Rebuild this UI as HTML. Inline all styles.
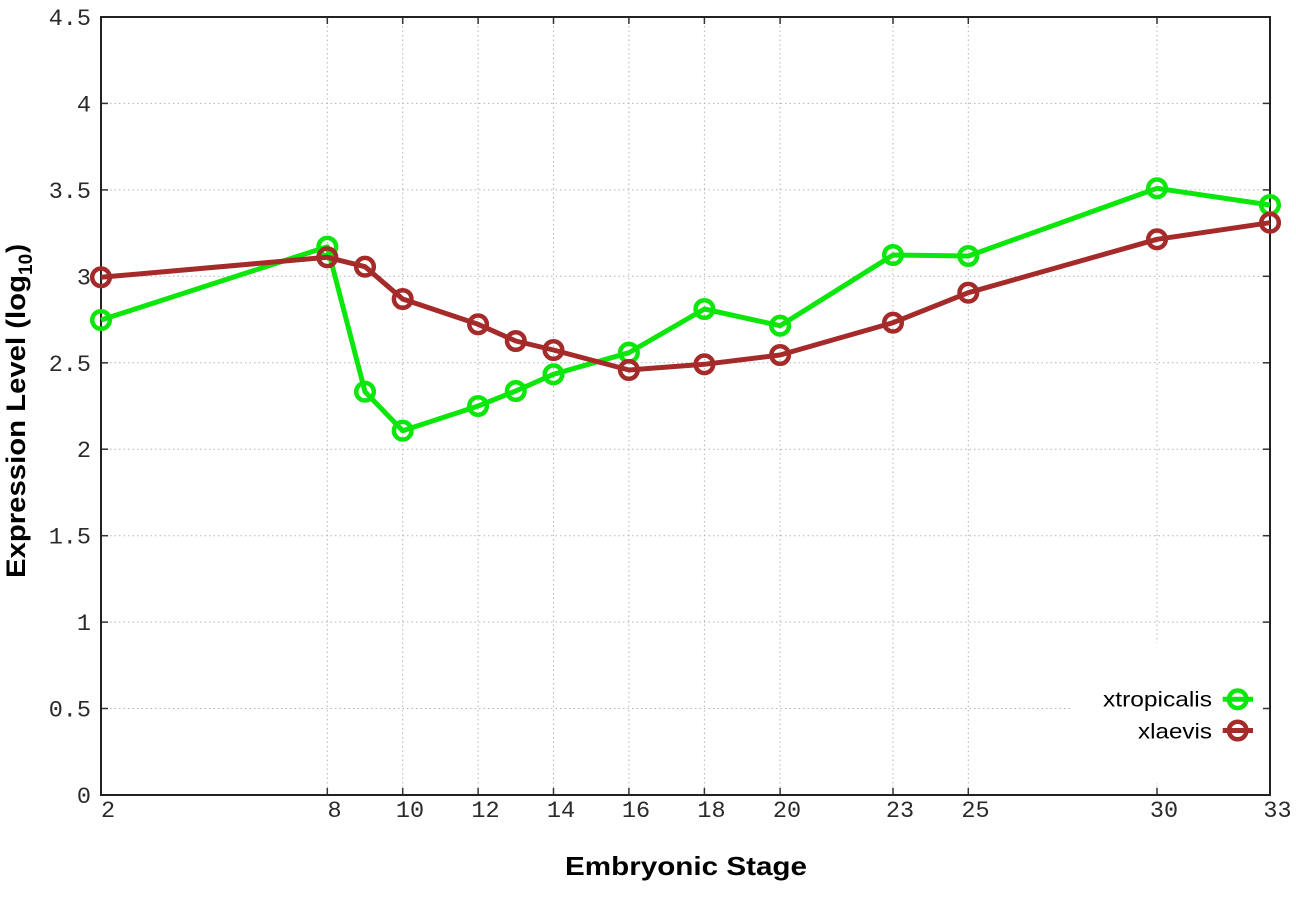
<!DOCTYPE html>
<html>
<head>
<meta charset="utf-8">
<style>
html,body{margin:0;padding:0;background:#fff;}
svg{display:block;}
.tk{font-family:"Liberation Mono","DejaVu Sans Mono",monospace;font-size:23.5px;fill:#2a2a2a;}
.lab{font-family:"Liberation Sans","DejaVu Sans",sans-serif;font-weight:bold;fill:#000;}
.leg{font-family:"Liberation Sans","DejaVu Sans",sans-serif;font-size:21px;fill:#000;}
</style>
</head>
<body>
<svg width="1296" height="907" viewBox="0 0 1296 907" xmlns="http://www.w3.org/2000/svg">
<rect width="1296" height="907" fill="#fff"/>
<!-- grid -->
<g stroke="#b4b4b4" stroke-width="1" stroke-dasharray="1.5,3" fill="none">
  <line x1="101" y1="103.4" x2="1270" y2="103.4"/>
  <line x1="101" y1="189.9" x2="1270" y2="189.9"/>
  <line x1="101" y1="276.3" x2="1270" y2="276.3"/>
  <line x1="101" y1="362.8" x2="1270" y2="362.8"/>
  <line x1="101" y1="449.2" x2="1270" y2="449.2"/>
  <line x1="101" y1="535.7" x2="1270" y2="535.7"/>
  <line x1="101" y1="622.1" x2="1270" y2="622.1"/>
  <line x1="101" y1="708.5" x2="1270" y2="708.5"/>
  <line x1="327.3" y1="17" x2="327.3" y2="795"/>
  <line x1="402.7" y1="17" x2="402.7" y2="795"/>
  <line x1="478.1" y1="17" x2="478.1" y2="795"/>
  <line x1="553.5" y1="17" x2="553.5" y2="795"/>
  <line x1="628.9" y1="17" x2="628.9" y2="795"/>
  <line x1="704.4" y1="17" x2="704.4" y2="795"/>
  <line x1="780.1" y1="17" x2="780.1" y2="795"/>
  <line x1="893" y1="17" x2="893" y2="795"/>
  <line x1="968.3" y1="17" x2="968.3" y2="795"/>
  <line x1="1157" y1="17" x2="1157" y2="795"/>
</g>
<!-- legend background -->
<rect x="1072" y="643" width="197" height="140" fill="#fff"/>
<!-- ticks -->
<g stroke="#333" stroke-width="1.5">
  <line x1="101" y1="103.4" x2="108" y2="103.4"/><line x1="1270" y1="103.4" x2="1263" y2="103.4"/>
  <line x1="101" y1="189.9" x2="108" y2="189.9"/><line x1="1270" y1="189.9" x2="1263" y2="189.9"/>
  <line x1="101" y1="276.3" x2="108" y2="276.3"/><line x1="1270" y1="276.3" x2="1263" y2="276.3"/>
  <line x1="101" y1="362.8" x2="108" y2="362.8"/><line x1="1270" y1="362.8" x2="1263" y2="362.8"/>
  <line x1="101" y1="449.2" x2="108" y2="449.2"/><line x1="1270" y1="449.2" x2="1263" y2="449.2"/>
  <line x1="101" y1="535.7" x2="108" y2="535.7"/><line x1="1270" y1="535.7" x2="1263" y2="535.7"/>
  <line x1="101" y1="622.1" x2="108" y2="622.1"/><line x1="1270" y1="622.1" x2="1263" y2="622.1"/>
  <line x1="101" y1="708.5" x2="108" y2="708.5"/><line x1="1270" y1="708.5" x2="1263" y2="708.5"/>
  <line x1="327.3" y1="795" x2="327.3" y2="788"/><line x1="327.3" y1="17" x2="327.3" y2="24"/>
  <line x1="402.7" y1="795" x2="402.7" y2="788"/><line x1="402.7" y1="17" x2="402.7" y2="24"/>
  <line x1="478.1" y1="795" x2="478.1" y2="788"/><line x1="478.1" y1="17" x2="478.1" y2="24"/>
  <line x1="553.5" y1="795" x2="553.5" y2="788"/><line x1="553.5" y1="17" x2="553.5" y2="24"/>
  <line x1="628.9" y1="795" x2="628.9" y2="788"/><line x1="628.9" y1="17" x2="628.9" y2="24"/>
  <line x1="704.4" y1="795" x2="704.4" y2="788"/><line x1="704.4" y1="17" x2="704.4" y2="24"/>
  <line x1="780.1" y1="795" x2="780.1" y2="788"/><line x1="780.1" y1="17" x2="780.1" y2="24"/>
  <line x1="893" y1="795" x2="893" y2="788"/><line x1="893" y1="17" x2="893" y2="24"/>
  <line x1="968.3" y1="795" x2="968.3" y2="788"/><line x1="968.3" y1="17" x2="968.3" y2="24"/>
  <line x1="1157" y1="795" x2="1157" y2="788"/><line x1="1157" y1="17" x2="1157" y2="24"/>
</g>
<!-- border -->
<rect x="101" y="17" width="1169" height="778" fill="none" stroke="#222" stroke-width="2"/>
<!-- y tick labels -->
<g class="tk" text-anchor="end">
  <text x="91" y="25">4.5</text>
  <text x="91" y="111.4">4</text>
  <text x="91" y="197.9">3.5</text>
  <text x="91" y="284.3">3</text>
  <text x="91" y="370.8">2.5</text>
  <text x="91" y="457.2">2</text>
  <text x="91" y="543.7">1.5</text>
  <text x="91" y="630.1">1</text>
  <text x="91" y="716.5">0.5</text>
  <text x="91" y="803">0</text>
</g>
<!-- x tick labels -->
<g class="tk" text-anchor="middle">
  <text x="108" y="817">2</text>
  <text x="334.5" y="817">8</text>
  <text x="410" y="817">10</text>
  <text x="485.5" y="817">12</text>
  <text x="561" y="817">14</text>
  <text x="636" y="817">16</text>
  <text x="711.5" y="817">18</text>
  <text x="787" y="817">20</text>
  <text x="900" y="817">23</text>
  <text x="975.5" y="817">25</text>
  <text x="1164" y="817">30</text>
  <text x="1277.5" y="817">33</text>
</g>
<!-- axis labels -->
<text class="lab" x="565" y="875" font-size="26" textLength="242" lengthAdjust="spacingAndGlyphs">Embryonic Stage</text>
<g transform="translate(25,578) rotate(-90)">
  <text class="lab" x="0" y="0" font-size="27" textLength="303" lengthAdjust="spacingAndGlyphs">Expression Level (log</text>
</g>
<g transform="translate(32,275) rotate(-90)">
  <text class="lab" x="0" y="0" font-size="19">10</text>
</g>
<g transform="translate(25,253) rotate(-90)">
  <text class="lab" x="0" y="0" font-size="27">)</text>
</g>
<!-- green series -->
<g fill="none" stroke="#0be60b" stroke-width="5" stroke-linejoin="round">
  <polyline points="101,320 327.3,246.7 365,391.7 402.7,430.7 478.1,406 515.8,391 553.5,374.3 628.9,352.7 704.4,309 780.1,325.7 893,255 968.3,256 1157,188.3 1270,205"/>
  <g stroke-width="4.5">
    <circle cx="101" cy="320" r="8.8"/>
    <circle cx="327.3" cy="246.7" r="8.8"/>
    <circle cx="365" cy="391.7" r="8.8"/>
    <circle cx="402.7" cy="430.7" r="8.8"/>
    <circle cx="478.1" cy="406" r="8.8"/>
    <circle cx="515.8" cy="391" r="8.8"/>
    <circle cx="553.5" cy="374.3" r="8.8"/>
    <circle cx="628.9" cy="352.7" r="8.8"/>
    <circle cx="704.4" cy="309" r="8.8"/>
    <circle cx="780.1" cy="325.7" r="8.8"/>
    <circle cx="893" cy="255" r="8.8"/>
    <circle cx="968.3" cy="256" r="8.8"/>
    <circle cx="1157" cy="188.3" r="8.8"/>
    <circle cx="1270" cy="205" r="8.8"/>
  </g>
</g>
<!-- red series -->
<g fill="none" stroke="#a52a2a" stroke-width="5" stroke-linejoin="round">
  <polyline points="101,277.3 327.3,257.3 365,266.7 402.7,299 478.1,324.3 515.8,341 553.5,350 628.9,370 704.4,364.3 780.1,355 893,322.7 968.3,292.7 1157,239.3 1270,222.7"/>
  <g stroke-width="4.5">
    <circle cx="101" cy="277.3" r="8.8"/>
    <circle cx="327.3" cy="257.3" r="8.8"/>
    <circle cx="365" cy="266.7" r="8.8"/>
    <circle cx="402.7" cy="299" r="8.8"/>
    <circle cx="478.1" cy="324.3" r="8.8"/>
    <circle cx="515.8" cy="341" r="8.8"/>
    <circle cx="553.5" cy="350" r="8.8"/>
    <circle cx="628.9" cy="370" r="8.8"/>
    <circle cx="704.4" cy="364.3" r="8.8"/>
    <circle cx="780.1" cy="355" r="8.8"/>
    <circle cx="893" cy="322.7" r="8.8"/>
    <circle cx="968.3" cy="292.7" r="8.8"/>
    <circle cx="1157" cy="239.3" r="8.8"/>
    <circle cx="1270" cy="222.7" r="8.8"/>
  </g>
</g>
<!-- legend -->
<text class="leg" x="1212" y="706.7" text-anchor="end" textLength="109" lengthAdjust="spacingAndGlyphs">xtropicalis</text>
<text class="leg" x="1212" y="738.3" text-anchor="end" textLength="74" lengthAdjust="spacingAndGlyphs">xlaevis</text>
<g fill="none" stroke-width="5">
  <line x1="1222.7" y1="699.3" x2="1253" y2="699.3" stroke="#0be60b"/>
  <circle cx="1237.7" cy="699.3" r="8.8" stroke="#0be60b" stroke-width="4.5"/>
  <line x1="1222.7" y1="730.5" x2="1253" y2="730.5" stroke="#a52a2a"/>
  <circle cx="1237.7" cy="730.5" r="8.8" stroke="#a52a2a" stroke-width="4.5"/>
</g>
</svg>
</body>
</html>
